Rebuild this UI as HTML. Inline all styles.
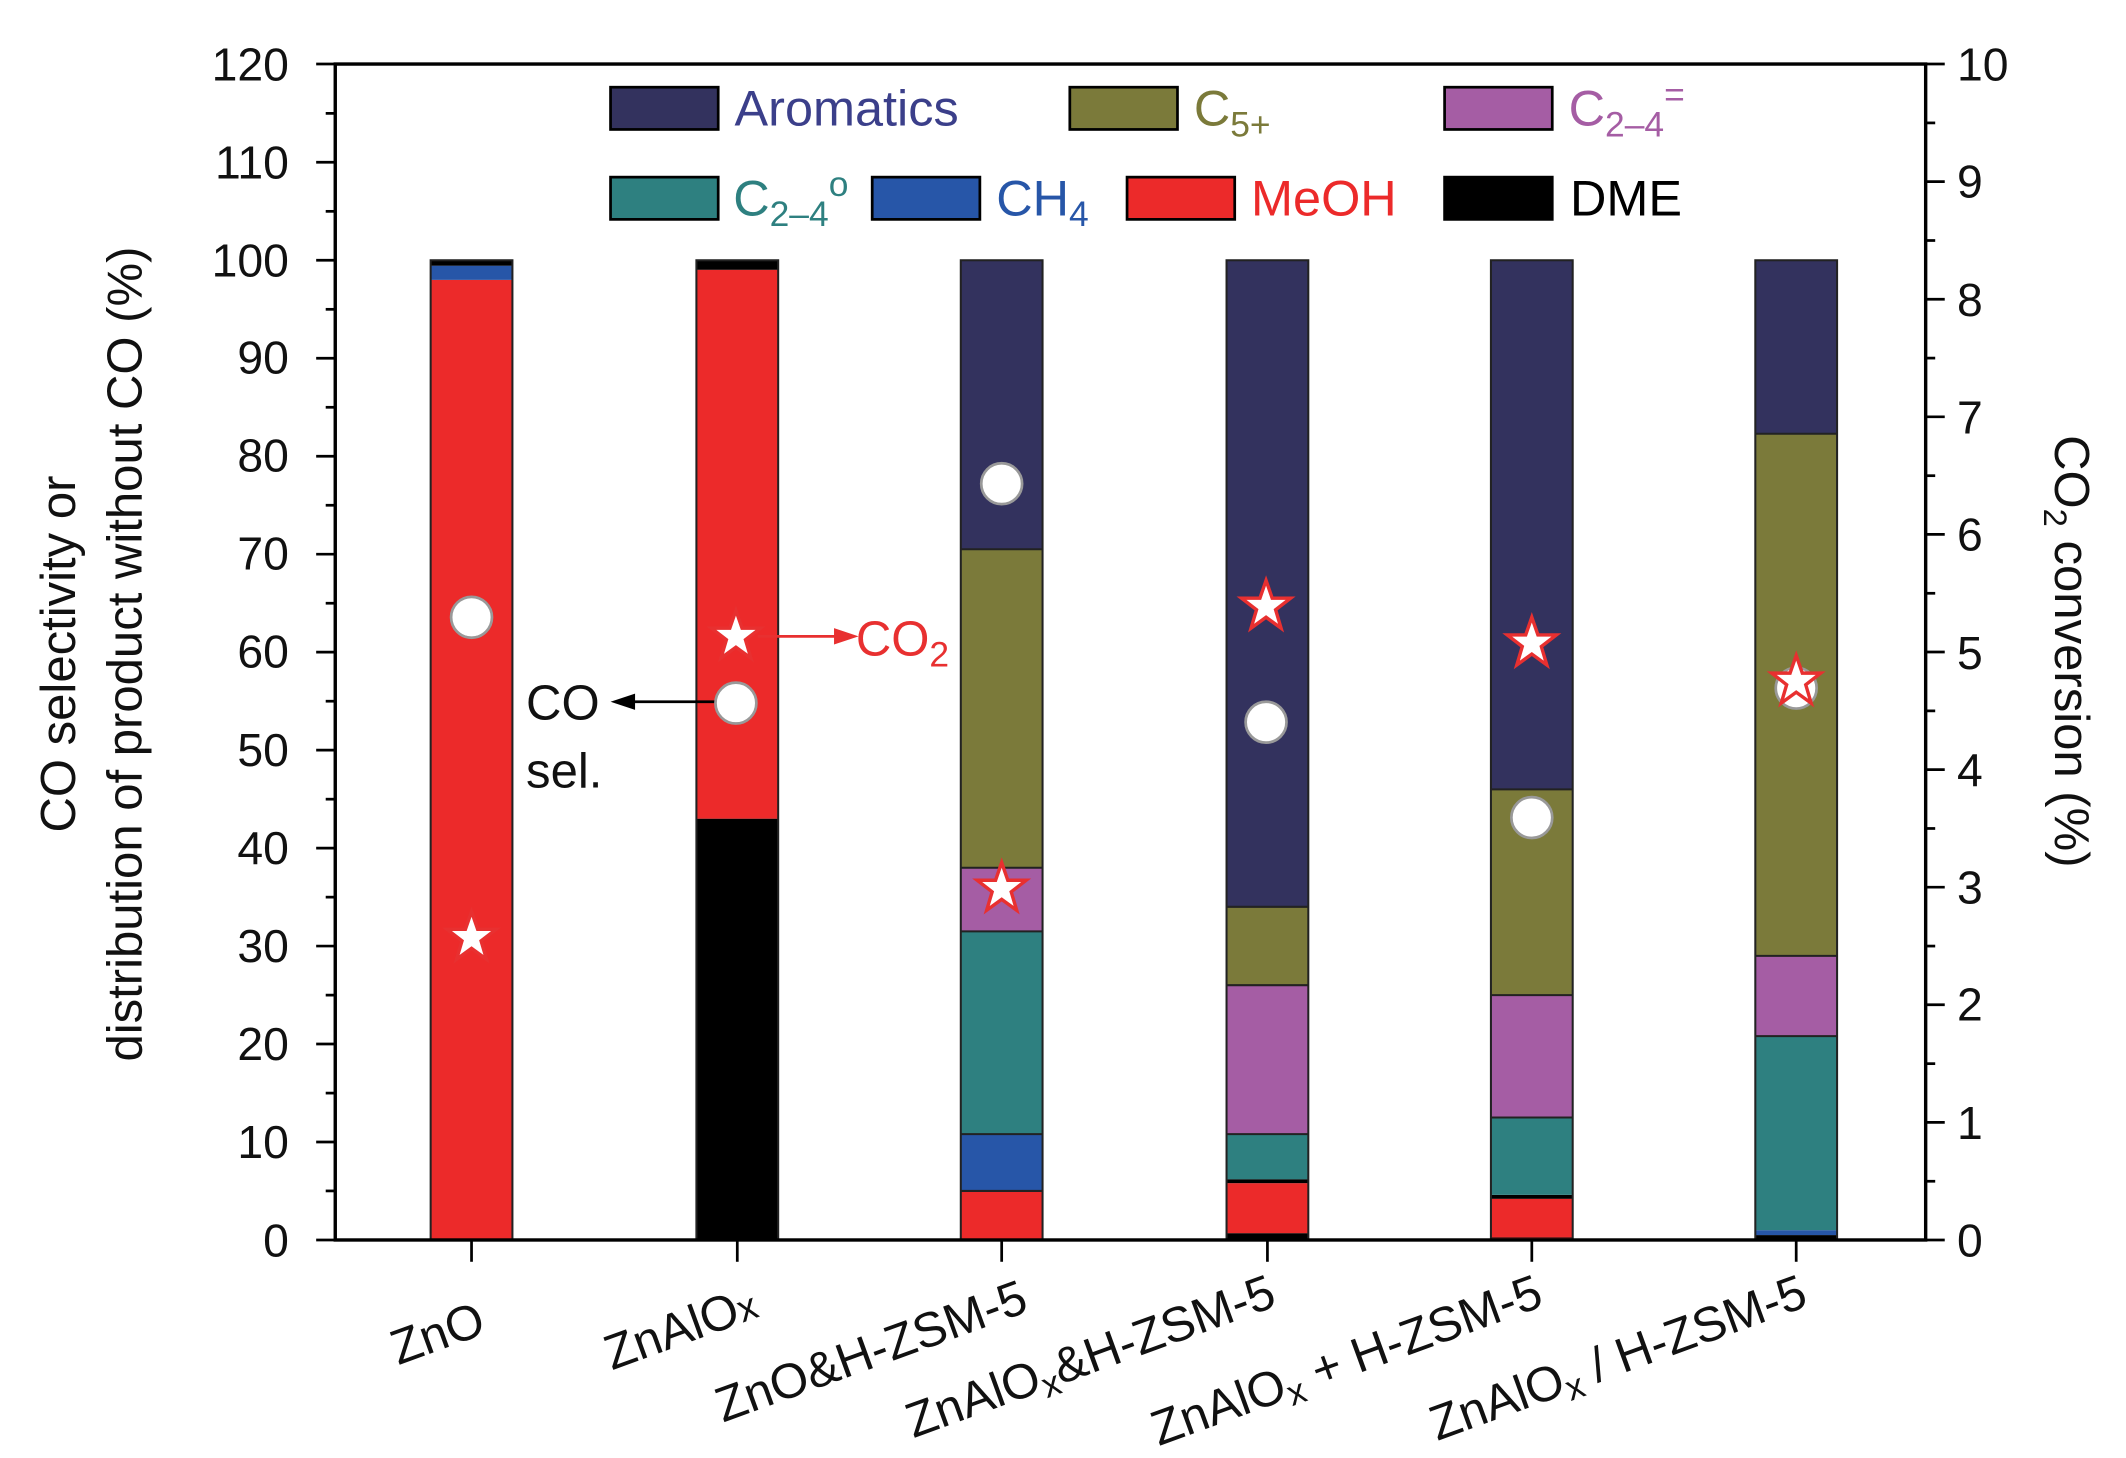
<!DOCTYPE html>
<html><head><style>html,body{margin:0;padding:0;background:#fff;}svg{display:block}</style></head>
<body>
<svg width="2126" height="1458" viewBox="0 0 1560 1070" preserveAspectRatio="none" xmlns="http://www.w3.org/2000/svg" font-family="Liberation Sans, sans-serif">
<defs>
<g id="circ"><circle r="15" fill="#fff" stroke="#999" stroke-width="2"/></g>
<polygon id="star" points="0,-19 4.5,-6 18,-6 7,2.5 11,16 0,8 -11,16 -7,2.5 -18,-6 -4.5,-6" fill="#fff" stroke="#e83030" stroke-width="2.5"/>
</defs>
<g stroke="none">
<rect x="316" y="205.4" width="60" height="704.6" fill="#ec2a2a"/>
<rect x="316" y="195" width="60" height="10.4" fill="#2756a8"/>
<rect x="316" y="191" width="60" height="4" fill="#000"/>

<rect x="511" y="600.8" width="60" height="309.2" fill="#000"/>
<rect x="511" y="198" width="60" height="402.8" fill="#ec2a2a"/>
<rect x="511" y="191" width="60" height="7" fill="#000"/>

<rect x="705" y="874" width="60" height="36" fill="#ec2a2a"/>
<rect x="705" y="832.3" width="60" height="41.7" fill="#2756a8"/>
<rect x="705" y="683.5" width="60" height="148.8" fill="#2e8080"/>
<rect x="705" y="636.8" width="60" height="46.7" fill="#a55da4"/>
<rect x="705" y="403.1" width="60" height="233.7" fill="#7b7a3a"/>
<rect x="705" y="191" width="60" height="212.1" fill="#33325e"/>

<rect x="900" y="905" width="60" height="5" fill="#000"/>
<rect x="900" y="868.3" width="60" height="36.7" fill="#ec2a2a"/>
<rect x="900" y="865.4" width="60" height="2.9" fill="#000"/>
<rect x="900" y="832.3" width="60" height="33.1" fill="#2e8080"/>
<rect x="900" y="723" width="60" height="109.3" fill="#a55da4"/>
<rect x="900" y="665.5" width="60" height="57.5" fill="#7b7a3a"/>
<rect x="900" y="191" width="60" height="474.5" fill="#33325e"/>

<rect x="1094" y="907.8" width="60" height="2.2" fill="#7a2020"/>
<rect x="1094" y="879.8" width="60" height="28" fill="#ec2a2a"/>
<rect x="1094" y="876.9" width="60" height="2.9" fill="#000"/>
<rect x="1094" y="820.1" width="60" height="56.8" fill="#2e8080"/>
<rect x="1094" y="730.3" width="60" height="89.8" fill="#a55da4"/>
<rect x="1094" y="579.3" width="60" height="151" fill="#7b7a3a"/>
<rect x="1094" y="191" width="60" height="388.3" fill="#33325e"/>

<rect x="1288" y="906.4" width="60" height="3.6" fill="#000"/>
<rect x="1288" y="902.8" width="60" height="3.6" fill="#2756a8"/>
<rect x="1288" y="760.4" width="60" height="142.4" fill="#2e8080"/>
<rect x="1288" y="701.5" width="60" height="58.9" fill="#a55da4"/>
<rect x="1288" y="318.3" width="60" height="383.2" fill="#7b7a3a"/>
<rect x="1288" y="191" width="60" height="127.3" fill="#33325e"/>
</g>
<g fill="none" stroke="#222" stroke-width="1.5">
<rect x="316" y="191" width="60" height="719"/><rect x="511" y="191" width="60" height="719"/>
<rect x="705" y="191" width="60" height="719"/><rect x="900" y="191" width="60" height="719"/>
<rect x="1094" y="191" width="60" height="719"/><rect x="1288" y="191" width="60" height="719"/>
</g>
<g stroke="#222" stroke-width="1.5">
<line x1="705" y1="832.3" x2="765" y2="832.3"/><line x1="705" y1="683.5" x2="765" y2="683.5"/><line x1="705" y1="636.8" x2="765" y2="636.8"/><line x1="705" y1="403.1" x2="765" y2="403.1"/><line x1="705" y1="874" x2="765" y2="874"/>
<line x1="900" y1="832.3" x2="960" y2="832.3"/><line x1="900" y1="723" x2="960" y2="723"/><line x1="900" y1="665.5" x2="960" y2="665.5"/>
<line x1="1094" y1="820.1" x2="1154" y2="820.1"/><line x1="1094" y1="730.3" x2="1154" y2="730.3"/><line x1="1094" y1="579.3" x2="1154" y2="579.3"/>
<line x1="1288" y1="760.4" x2="1348" y2="760.4"/><line x1="1288" y1="701.5" x2="1348" y2="701.5"/><line x1="1288" y1="318.3" x2="1348" y2="318.3"/>
</g>
<rect x="246" y="47" width="1167" height="863" fill="none" stroke="#000" stroke-width="2.5"/>
<g stroke="#000" stroke-width="2">
<line x1="232" y1="910" x2="246" y2="910"/><line x1="239" y1="874" x2="246" y2="874"/>
<line x1="232" y1="838.1" x2="246" y2="838.1"/><line x1="239" y1="802.2" x2="246" y2="802.2"/>
<line x1="232" y1="766.2" x2="246" y2="766.2"/><line x1="239" y1="730.3" x2="246" y2="730.3"/>
<line x1="232" y1="694.3" x2="246" y2="694.3"/><line x1="239" y1="658.4" x2="246" y2="658.4"/>
<line x1="232" y1="622.4" x2="246" y2="622.4"/><line x1="239" y1="586.5" x2="246" y2="586.5"/>
<line x1="232" y1="550.5" x2="246" y2="550.5"/><line x1="239" y1="514.6" x2="246" y2="514.6"/>
<line x1="232" y1="478.6" x2="246" y2="478.6"/><line x1="239" y1="442.7" x2="246" y2="442.7"/>
<line x1="232" y1="406.7" x2="246" y2="406.7"/><line x1="239" y1="370.8" x2="246" y2="370.8"/>
<line x1="232" y1="334.8" x2="246" y2="334.8"/><line x1="239" y1="298.9" x2="246" y2="298.9"/>
<line x1="232" y1="262.9" x2="246" y2="262.9"/><line x1="239" y1="227" x2="246" y2="227"/>
<line x1="232" y1="191" x2="246" y2="191"/><line x1="239" y1="155.1" x2="246" y2="155.1"/>
<line x1="232" y1="119.1" x2="246" y2="119.1"/><line x1="239" y1="83.2" x2="246" y2="83.2"/>
<line x1="232" y1="47" x2="246" y2="47"/>
</g>
<g stroke="#000" stroke-width="2">
<line x1="1413" y1="910" x2="1427" y2="910"/><line x1="1413" y1="866.9" x2="1420" y2="866.9"/>
<line x1="1413" y1="823.7" x2="1427" y2="823.7"/><line x1="1413" y1="780.6" x2="1420" y2="780.6"/>
<line x1="1413" y1="737.4" x2="1427" y2="737.4"/><line x1="1413" y1="694.3" x2="1420" y2="694.3"/>
<line x1="1413" y1="651.1" x2="1427" y2="651.1"/><line x1="1413" y1="608" x2="1420" y2="608"/>
<line x1="1413" y1="564.8" x2="1427" y2="564.8"/><line x1="1413" y1="521.7" x2="1420" y2="521.7"/>
<line x1="1413" y1="478.5" x2="1427" y2="478.5"/><line x1="1413" y1="435.4" x2="1420" y2="435.4"/>
<line x1="1413" y1="392.2" x2="1427" y2="392.2"/><line x1="1413" y1="349.1" x2="1420" y2="349.1"/>
<line x1="1413" y1="305.9" x2="1427" y2="305.9"/><line x1="1413" y1="262.8" x2="1420" y2="262.8"/>
<line x1="1413" y1="219.6" x2="1427" y2="219.6"/><line x1="1413" y1="176.5" x2="1420" y2="176.5"/>
<line x1="1413" y1="133.3" x2="1427" y2="133.3"/><line x1="1413" y1="90.2" x2="1420" y2="90.2"/>
<line x1="1413" y1="47" x2="1427" y2="47"/>
</g>
<g stroke="#000" stroke-width="2">
<line x1="346" y1="910" x2="346" y2="926"/><line x1="541" y1="910" x2="541" y2="926"/><line x1="735" y1="910" x2="735" y2="926"/>
<line x1="930" y1="910" x2="930" y2="926"/><line x1="1124" y1="910" x2="1124" y2="926"/><line x1="1318" y1="910" x2="1318" y2="926"/>
</g>
<g font-size="34" text-anchor="end" fill="#111">
<text x="212" y="922">0</text><text x="212" y="850">10</text><text x="212" y="778">20</text><text x="212" y="706">30</text>
<text x="212" y="634">40</text><text x="212" y="562">50</text><text x="212" y="490">60</text><text x="212" y="418">70</text>
<text x="212" y="346">80</text><text x="212" y="274">90</text><text x="212" y="203">100</text><text x="212" y="131">110</text><text x="212" y="59">120</text>
</g>
<g font-size="34" text-anchor="start" fill="#111">
<text x="1436" y="922">0</text><text x="1436" y="836">1</text><text x="1436" y="749">2</text><text x="1436" y="663">3</text>
<text x="1436" y="577">4</text><text x="1436" y="491">5</text><text x="1436" y="404">6</text><text x="1436" y="318">7</text>
<text x="1436" y="232">8</text><text x="1436" y="145">9</text><text x="1436" y="59">10</text>
</g>
<text transform="translate(55,480) rotate(-90)" font-size="36" text-anchor="middle" fill="#111">CO selectivity or</text>
<text transform="translate(104,480) rotate(-90)" font-size="36" text-anchor="middle" fill="#111">distribution of product without CO (%)</text>
<text transform="translate(1508,478) rotate(90)" font-size="36" text-anchor="middle" fill="#111">CO<tspan font-size="24" dy="8">2</tspan><tspan dy="-8"> conversion (%)</tspan></text>
<g font-size="36" text-anchor="end" fill="#111">
<text transform="translate(358,978) rotate(-20)">ZnO</text>
<text transform="translate(558,966) rotate(-20)">ZnAlO<tspan font-size="28">x</tspan></text>
<text transform="translate(756,962) rotate(-20)">ZnO&amp;H-ZSM-5</text>
<text transform="translate(938,958) rotate(-20)">ZnAlO<tspan font-size="26" dy="6">x</tspan><tspan dy="-6">&amp;H-ZSM-5</tspan></text>
<text transform="translate(1134,958) rotate(-20)">ZnAlO<tspan font-size="26" dy="6">x</tspan><tspan dy="-6"> + H-ZSM-5</tspan></text>
<text transform="translate(1328,958) rotate(-20)">ZnAlO<tspan font-size="26" dy="6">x</tspan><tspan dy="-6"> / H-ZSM-5</tspan></text>
</g>
<g stroke="#000" stroke-width="2">
<rect x="448" y="64" width="79" height="31" fill="#33325e"/>
<rect x="785" y="64" width="79" height="31" fill="#7b7a3a"/>
<rect x="1060" y="64" width="79" height="31" fill="#a55da4"/>
<rect x="448" y="130" width="79" height="31" fill="#2e8080"/>
<rect x="640" y="130" width="79" height="31" fill="#2756a8"/>
<rect x="827" y="130" width="79" height="31" fill="#ec2a2a"/>
<rect x="1060" y="130" width="79" height="31" fill="#000"/>
</g>
<g font-size="37">
<text x="539" y="92" fill="#3b3f8a">Aromatics</text>
<text x="876" y="92" fill="#7b7a3a">C<tspan font-size="26" dy="8">5+</tspan></text>
<text x="1151" y="92" fill="#a55da4">C<tspan font-size="26" dy="8">2–4</tspan><tspan font-size="26" dy="-22">=</tspan></text>
<text x="538" y="158" fill="#2e8080">C<tspan font-size="26" dy="8">2–4</tspan><tspan font-size="26" dy="-22">o</tspan></text>
<text x="731" y="158" fill="#2756a8">CH<tspan font-size="26" dy="8">4</tspan></text>
<text x="918" y="158" fill="#ec2a2a">MeOH</text>
<text x="1152" y="158" fill="#000">DME</text>
</g>
<line x1="528" y1="515" x2="462" y2="515" stroke="#000" stroke-width="2"/>
<polygon points="448,515 466,509 466,521" fill="#000"/>
<text x="386" y="528" font-size="36" fill="#111">CO</text>
<text x="386" y="578" font-size="36" fill="#111">sel.</text>
<line x1="556" y1="467" x2="615" y2="467" stroke="#e83030" stroke-width="2"/>
<polygon points="630,467 612,461 612,473" fill="#e83030"/>
<text x="628" y="481" font-size="36" fill="#e83030">CO<tspan font-size="26" dy="8">2</tspan></text>
<use href="#circ" x="346" y="453"/><use href="#circ" x="540" y="516"/><use href="#circ" x="735" y="355"/>
<use href="#circ" x="929" y="530"/><use href="#circ" x="1124" y="600"/><use href="#circ" x="1318" y="505"/>
<use href="#star" x="346" y="688"/><use href="#star" x="540" y="467"/><use href="#star" x="735" y="652"/>
<use href="#star" x="929" y="445"/><use href="#star" x="1124" y="472"/><use href="#star" x="1318" y="500"/>
</svg>
</body></html>
